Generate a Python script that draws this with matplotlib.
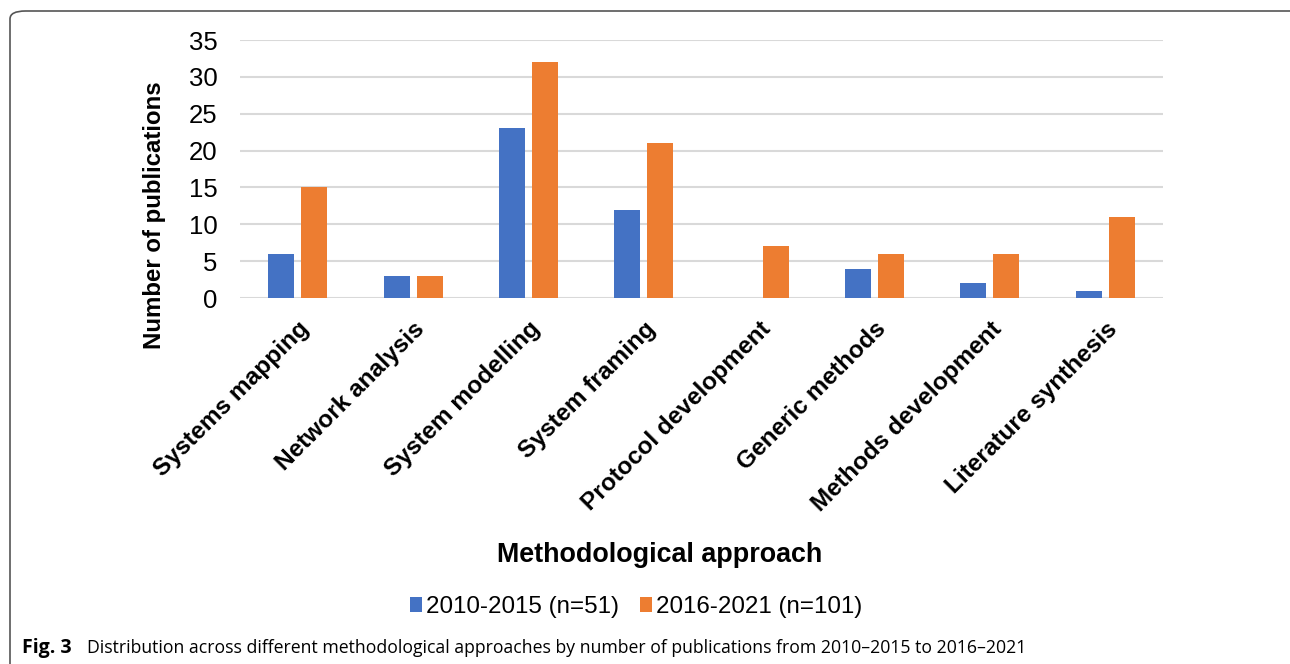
import numpy as np
import matplotlib.pyplot as plt
from matplotlib.patches import FancyBboxPatch

categories = ['Systems mapping', 'Network analysis', 'System modelling', 'System framing',
              'Protocol development', 'Generic methods', 'Methods development', 'Literature synthesis']
early = [6, 3, 23, 12, 0, 4, 2, 1]
late = [15, 3, 32, 21, 7, 6, 6, 11]
series_labels = ['2010-2015 (n=51)', '2016-2021 (n=101)']

plt.rcParams['font.family'] = ['Liberation Sans', 'DejaVu Sans']

fig = plt.figure(figsize=(12.9, 6.64), dpi=100)
ax = fig.add_axes([240 / 1290, 1 - 298 / 664, 923 / 1290, 258 / 664])

x = np.arange(len(categories))
w = 0.225
off = 0.143
b1 = ax.bar(x - off, early, w, color='#4472C4', label=series_labels[0], zorder=3)
b2 = ax.bar(x + off, late, w, color='#ED7D31', label=series_labels[1], zorder=3)

ax.set_xlim(-0.5, len(categories) - 0.5)
ax.set_ylim(0, 35)
ax.set_yticks(range(0, 36, 5))
ax.yaxis.grid(True, color='#D9D9D9', linewidth=1.5)
ax.set_axisbelow(True)
for s in ax.spines.values():
    s.set_visible(False)
ax.tick_params(axis='both', length=0)
ax.tick_params(axis='y', labelsize=18.5, pad=16)
ax.set_xticks(x)
ax.set_xticklabels(categories, rotation=45, ha='right', rotation_mode='anchor',
                   fontsize=17.6, fontweight='bold')
ax.tick_params(axis='x', pad=14)

fig.text(155 / 1290, 1 - 215 / 664, 'Number of publications', rotation=90,
         ha='center', va='center', fontsize=17.3, fontweight='bold')
fig.text(660 / 1290, 1 - 555 / 664, 'Methodological approach', ha='center', va='center',
         fontsize=19.4, fontweight='bold')

fig.legend(handles=[b1, b2], loc='center', bbox_to_anchor=(636 / 1290, 1 - 607 / 664),
           ncol=2, frameon=False, fontsize=17.4, handlelength=0.5, handleheight=0.6,
           handletextpad=0.15, columnspacing=0.9)

# caption
cap_font = ['Open Sans', 'DejaVu Sans']
fig.text(22 / 1290, 1 - 648 / 664, 'Fig. 3', fontsize=14, fontweight='bold',
         family=cap_font, va='center', ha='left')
fig.text(87 / 1290, 1 - 648 / 664,
         'Distribution across different methodological approaches by number of publications from 2010–2015 to 2016–2021',
         fontsize=12.7, family=cap_font, va='center', ha='left')

# rounded border box
box = FancyBboxPatch((10 / 1290, -0.05), 1.2, 1 - 11 / 664 + 0.05,
                     boxstyle='round,pad=0,rounding_size=0.012',
                     transform=fig.transFigure, fill=False, edgecolor='#555555',
                     linewidth=1.2, clip_on=False)
fig.patches.append(box)

fig.savefig('out.png', dpi=100)
